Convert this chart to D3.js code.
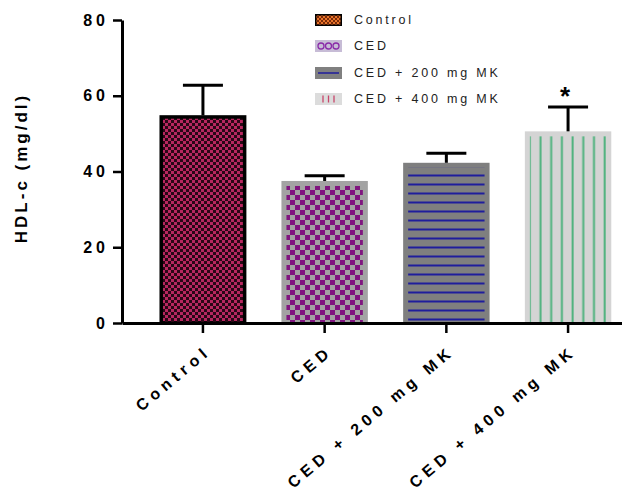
<!DOCTYPE html>
<html>
<head>
<meta charset="utf-8">
<script src="https://cdn.jsdelivr.net/npm/d3@7"></script>
<style>
  html, body { margin: 0; padding: 0; background: #fff; }
  svg { display: block; }
  text { font-family: "Liberation Sans", Arial, Helvetica, sans-serif; }
</style>
</head>
<body>
<svg id="chart" width="622" height="490"></svg>
<script>
// ---- data ----
const categories = ["Control", "CED", "CED + 200 mg MK", "CED + 400 mg MK"];
const means = [54.8, 37.5, 42.3, 50.6];
const errors = [8.0, 1.4, 2.5, 6.4];
const significance = ["", "", "", "*"];
const yTicks = [0, 20, 40, 60, 80];
const yTitle = "HDL-c (mg/dl)";

// ---- setup ----
const svg = d3.select("#chart");
const defs = svg.append("defs");

// patterns
const pCtrl = defs.append("pattern").attr("id", "pCtrl").attr("patternUnits", "userSpaceOnUse")
  .attr("width", 6).attr("height", 6);
pCtrl.append("rect").attr("width", 6).attr("height", 6).attr("fill", "#2a0716");
pCtrl.append("rect").attr("width", 3).attr("height", 3).attr("fill", "#b8275f");
pCtrl.append("rect").attr("x", 3).attr("y", 3).attr("width", 3).attr("height", 3).attr("fill", "#b8275f");

const pCed = defs.append("pattern").attr("id", "pCed").attr("patternUnits", "userSpaceOnUse")
  .attr("width", 10).attr("height", 10);
pCed.append("rect").attr("width", 10).attr("height", 10).attr("fill", "#a3a3a3");
pCed.append("rect").attr("width", 5).attr("height", 5).attr("fill", "#80157f");
pCed.append("rect").attr("x", 5).attr("y", 5).attr("width", 5).attr("height", 5).attr("fill", "#80157f");

const p200 = defs.append("pattern").attr("id", "p200").attr("patternUnits", "userSpaceOnUse")
  .attr("width", 10).attr("height", 9);
p200.append("rect").attr("width", 10).attr("height", 9).attr("fill", "#7f7f7f");
p200.append("rect").attr("y", 3.5).attr("width", 10).attr("height", 2).attr("fill", "#1f1d9c");

const p400 = defs.append("pattern").attr("id", "p400").attr("patternUnits", "userSpaceOnUse")
  .attr("width", 10.7).attr("height", 10);
p400.append("rect").attr("width", 10.7).attr("height", 10).attr("fill", "#d4d4d4");
p400.append("rect").attr("x", 4.5).attr("width", 2).attr("height", 10).attr("fill", "#4fb27e");

// legend swatch patterns
const lCtrl = defs.append("pattern").attr("id", "lCtrl").attr("patternUnits", "userSpaceOnUse")
  .attr("width", 4).attr("height", 4);
lCtrl.append("rect").attr("width", 4).attr("height", 4).attr("fill", "#7a2a08");
lCtrl.append("rect").attr("width", 2).attr("height", 2).attr("fill", "#e8742a");
lCtrl.append("rect").attr("x", 2).attr("y", 2).attr("width", 2).attr("height", 2).attr("fill", "#e8742a");

const fills = ["url(#pCtrl)", "url(#pCed)", "url(#p200)", "url(#p400)"];
const baseFills = ["#2a0716", "#a3a3a3", "#7f7f7f", "#d4d4d4"];

const x = d3.scaleBand().domain(categories).range([122, 649]).paddingInner(0.29).paddingOuter(0.31);
const y = d3.scaleLinear().domain([0, 80]).range([323, 20]);

const data = categories.map((c, i) => ({ c, m: means[i], e: errors[i], s: significance[i], i }));

// bars
const bars = svg.append("g");
bars.selectAll("g.bar").data(data).join("g").attr("class", "bar").each(function (d) {
  const g = d3.select(this);
  const x0 = x(d.c), w = x.bandwidth(), yt = y(d.m), h = y(0) - y(d.m);
  if (d.i === 0) {
    g.append("rect").attr("x", x0 + 1.5).attr("y", yt + 1.5).attr("width", w - 3).attr("height", h - 1.5)
      .attr("fill", fills[0]).attr("stroke", "#000").attr("stroke-width", 3.5);
  } else {
    g.append("rect").attr("x", x0).attr("y", yt).attr("width", w).attr("height", h).attr("fill", baseFills[d.i]);
    const inset = 5;
    g.append("rect").attr("x", x0 + inset).attr("y", yt + inset).attr("width", w - 2 * inset)
      .attr("height", Math.max(0, h - inset)).attr("fill", fills[d.i]);
  }
});

// error bars
const eb = svg.append("g").attr("stroke", "#000").attr("stroke-width", 3);
data.forEach(d => {
  const cx = x(d.c) + x.bandwidth() / 2;
  eb.append("line").attr("x1", cx).attr("x2", cx).attr("y1", y(d.m)).attr("y2", y(d.m + d.e));
  eb.append("line").attr("x1", cx - 20).attr("x2", cx + 20).attr("y1", y(d.m + d.e)).attr("y2", y(d.m + d.e));
});

// significance
svg.append("g").selectAll("text").data(data.filter(d => d.s)).join("text")
  .attr("x", d => x(d.c) + x.bandwidth() / 2 - 3)
  .attr("y", d => y(d.m + d.e) - 2)
  .attr("text-anchor", "middle")
  .attr("font-size", 26).attr("font-weight", "bold").attr("fill", "#000")
  .text(d => d.s);

// y axis
const yAxis = svg.append("g").attr("transform", "translate(122,0)")
  .call(d3.axisLeft(y).tickValues(yTicks).tickSize(9).tickSizeOuter(0).tickPadding(4));
yAxis.select(".domain").attr("stroke", "#000").attr("stroke-width", 3);
yAxis.selectAll(".tick line").attr("stroke", "#000").attr("stroke-width", 2.5);
yAxis.selectAll(".tick text").attr("font-size", 16).attr("font-weight", "bold")
  .attr("letter-spacing", "4px").attr("fill", "#000")
  .attr("font-family", '"Liberation Sans", Arial, sans-serif');

// x axis
const xAxis = svg.append("g").attr("transform", "translate(0,323)")
  .call(d3.axisBottom(x).tickSize(10).tickSizeOuter(0));
xAxis.select(".domain").attr("stroke", "#000").attr("stroke-width", 3);
xAxis.selectAll(".tick line").attr("stroke", "#000").attr("stroke-width", 2.5);
xAxis.selectAll(".tick text").remove();
xAxis.selectAll(".tick").append("text")
  .attr("transform", "translate(9,30) rotate(-40)")
  .attr("text-anchor", "end")
  .attr("font-size", 16).attr("font-weight", "bold").attr("letter-spacing", "5px")
  .attr("fill", "#000")
  .attr("font-family", '"Liberation Sans", Arial, sans-serif')
  .text(d => d);

// y title
svg.append("text")
  .attr("transform", "translate(23,168) rotate(-90)")
  .attr("text-anchor", "middle").attr("dominant-baseline", "middle")
  .attr("font-size", 17).attr("font-weight", "bold").attr("letter-spacing", "3px")
  .attr("fill", "#000")
  .text(yTitle);

// legend
const legend = svg.append("g");
const rowsY = [20, 46, 73, 99];
categories.forEach((c, i) => {
  const g = legend.append("g").attr("transform", `translate(315,${rowsY[i]})`);
  if (i === 0) {
    g.append("rect").attr("x", 0.75).attr("y", -5.25).attr("width", 25.5).attr("height", 10.5)
      .attr("fill", "url(#lCtrl)").attr("stroke", "#000").attr("stroke-width", 1.5);
  } else if (i === 1) {
    g.append("rect").attr("y", -6).attr("width", 27).attr("height", 12).attr("fill", "#c7bcd6");
    [6, 13.5, 21].forEach(cx => g.append("circle").attr("cx", cx).attr("cy", 0).attr("r", 3)
      .attr("fill", "none").attr("stroke", "#8a2aa8").attr("stroke-width", 1.3));
  } else if (i === 2) {
    g.append("rect").attr("y", -6).attr("width", 27).attr("height", 12).attr("fill", "#808080");
    g.append("line").attr("x1", 3).attr("x2", 24).attr("y1", 0).attr("y2", 0)
      .attr("stroke", "#1f1d9c").attr("stroke-width", 1.5);
  } else {
    g.append("rect").attr("y", -6).attr("width", 27).attr("height", 12).attr("fill", "#dcdcdc");
    [8, 13.5, 19].forEach(lx => g.append("line").attr("x1", lx).attr("x2", lx).attr("y1", -3.5).attr("y2", 3.5)
      .attr("stroke", "#c8466a").attr("stroke-width", 1.3));
  }
  g.append("text").attr("x", 39).attr("y", 0).attr("dominant-baseline", "central")
    .attr("font-size", 12.5).attr("letter-spacing", "2.8px").attr("fill", "#222")
    .text(c);
});
</script>
</body>
</html>
